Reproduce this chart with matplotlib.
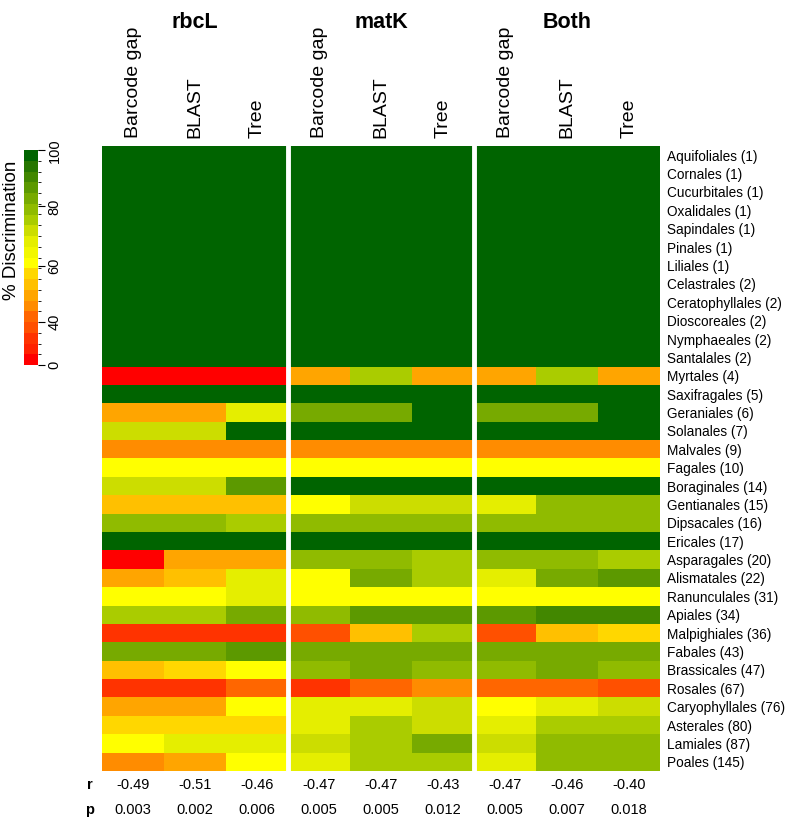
import numpy as np
import matplotlib
matplotlib.use('Agg')
import matplotlib.pyplot as plt
from matplotlib.colors import ListedColormap, BoundaryNorm
import matplotlib.transforms as mtransforms

plt.rcParams['font.family'] = ['Liberation Sans', 'DejaVu Sans']

# du lieu
orders = ['Aquifoliales (1)', 'Cornales (1)', 'Cucurbitales (1)', 'Oxalidales (1)',
          'Sapindales (1)', 'Pinales (1)', 'Liliales (1)', 'Celastrales (2)',
          'Ceratophyllales (2)', 'Dioscoreales (2)', 'Nymphaeales (2)', 'Santalales (2)',
          'Myrtales (4)', 'Saxifragales (5)', 'Geraniales (6)', 'Solanales (7)',
          'Malvales (9)', 'Fagales (10)', 'Boraginales (14)', 'Gentianales (15)',
          'Dipsacales (16)', 'Ericales (17)', 'Asparagales (20)', 'Alismatales (22)',
          'Ranunculales (31)', 'Apiales (34)', 'Malpighiales (36)', 'Fabales (43)',
          'Brassicales (47)', 'Rosales (67)', 'Caryophyllales (76)', 'Asterales (80)',
          'Lamiales (87)', 'Poales (145)']
methods = ['Barcode gap', 'BLAST', 'Tree']
markers = ['rbcL', 'matK', 'Both']

rbcl = [[100, 100, 100]] * 12 + [
    [0, 0, 0], [100, 100, 100], [50, 50, 67], [71, 71, 100], [44, 44, 44],
    [60, 60, 60], [71, 71, 86], [53, 53, 53], [79, 79, 75], [100, 100, 100],
    [0, 50, 50], [50, 53, 68], [61, 61, 68], [75, 75, 83], [25, 25, 25],
    [83, 83, 86], [53, 57, 61], [25, 25, 42], [50, 50, 61], [56, 56, 56],
    [61, 68, 68], [45, 50, 61]]
matk = [[100, 100, 100]] * 12 + [
    [50, 75, 50], [100, 100, 100], [83, 83, 100], [100, 100, 100], [44, 44, 44],
    [60, 60, 60], [100, 100, 100], [60, 73, 73], [79, 79, 79], [100, 100, 100],
    [79, 79, 75], [61, 83, 75], [61, 61, 61], [79, 86, 86], [33, 53, 75],
    [83, 83, 83], [79, 83, 79], [25, 42, 45], [68, 68, 72], [68, 75, 72],
    [72, 75, 83], [68, 75, 75]]
both = [[100, 100, 100]] * 12 + [
    [50, 75, 50], [100, 100, 100], [83, 83, 100], [100, 100, 100], [44, 44, 44],
    [60, 60, 60], [100, 100, 100], [67, 80, 80], [79, 79, 79], [100, 100, 100],
    [79, 79, 75], [68, 83, 86], [61, 61, 61], [86, 91, 91], [33, 53, 56],
    [83, 83, 83], [79, 83, 79], [42, 42, 35], [61, 68, 72], [68, 75, 75],
    [72, 79, 79], [68, 79, 79]]

r_vals = ['-0.49', '-0.51', '-0.46', '-0.47', '-0.47', '-0.43', '-0.47', '-0.46', '-0.40']
p_vals = ['0.003', '0.002', '0.006', '0.005', '0.005', '0.012', '0.005', '0.007', '0.018']

# bang mau 20 nac
pal = ['#FF0000', '#FF2200', '#FF3300', '#FF5000', '#FF6600', '#FF8C00', '#FFA500',
       '#FFC000', '#FFD700', '#FFFF00', '#F2F700', '#E5EE00', '#CCDD00', '#AACC00',
       '#90BB00', '#77AA00', '#5C9900', '#428700', '#267600', '#006400']
bounds = [0, 10, 20, 30, 40, 44, 48, 52, 55, 59, 63, 66, 70, 74, 77, 81, 85, 88, 92, 96, 100.1]

data = np.hstack([np.array(rbcl), np.array(matk), np.array(both)])

W, H = 788, 824
fig = plt.figure(figsize=(W / 100, H / 100), dpi=100)


def px(l, t, w, h):
    return [l / W, 1 - (t + h) / H, w / W, h / H]


cmap = ListedColormap(pal)
norm = BoundaryNorm(bounds, cmap.N)

ax = fig.add_axes(px(102, 146, 558, 625))
mesh = ax.pcolormesh(np.arange(10), np.arange(35), data, cmap=cmap, norm=norm)
ax.set_xlim(0, 9)
ax.set_ylim(34, 0)
for xv in [3, 6]:
    ax.axvline(xv, color='white', lw=3.5)
for s in ax.spines.values():
    s.set_visible(False)
ax.set_xticks([])
ax.yaxis.tick_right()
ax.set_yticks(np.arange(34) + 0.5)
ax.set_yticklabels(orders, fontsize=9.8)
ax.tick_params(axis='y', length=0, pad=5)

tr = mtransforms.blended_transform_factory(ax.transData, fig.transFigure)
for j in range(9):
    ax.text(j + 0.5, 1 - 138 / H, methods[j % 3], rotation=90, ha='center', va='bottom',
            fontsize=14, transform=tr)
    ax.text(j + 0.5, 1 - 785 / H, r_vals[j], ha='center', va='center', fontsize=10.5, transform=tr)
    ax.text(j + 0.5, 1 - 810 / H, p_vals[j], ha='center', va='center', fontsize=10.5, transform=tr)
for k in range(3):
    ax.text(3 * k + 1.5, 1 - 22 / H, markers[k], ha='center', va='center', fontsize=15.5,
            fontweight='bold', transform=tr)
fig.text(90 / W, 1 - 785 / H, 'r', ha='center', va='center', fontsize=10.5, fontweight='bold')
fig.text(90 / W, 1 - 810 / H, 'p', ha='center', va='center', fontsize=10.5, fontweight='bold')

# thanh mau
cax = fig.add_axes(px(24, 150, 14, 215))
cb = fig.colorbar(mesh, cax=cax, ticks=[0, 40, 60, 80, 100])
cb.outline.set_visible(False)
cax.tick_params(length=5, labelsize=10.5, pad=2)
for lbl in cax.get_yticklabels():
    lbl.set_rotation(90)
    lbl.set_va('center')
fig.text(12 / W, 1 - 230 / H, '% Discrimination', rotation=90, ha='center', va='center', fontsize=13.5)

fig.savefig('out.png', dpi=100)
